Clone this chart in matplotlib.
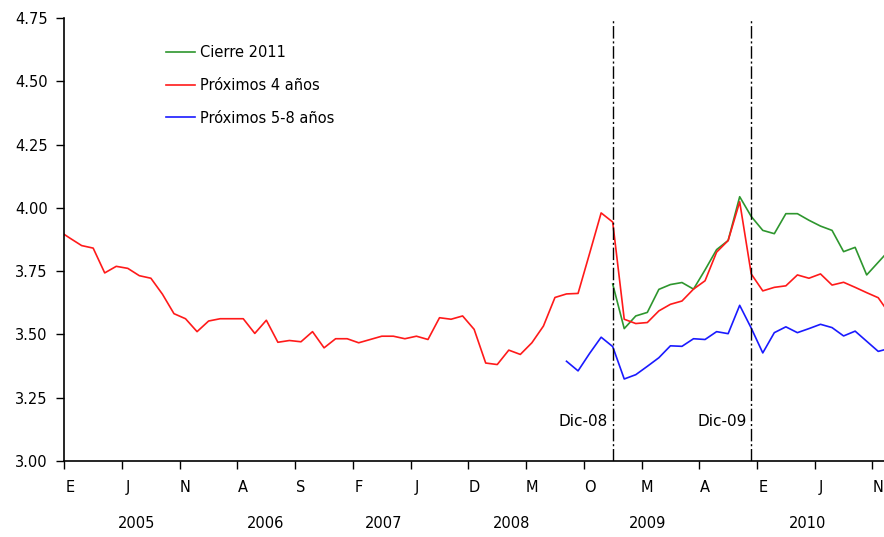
import numpy as np
import matplotlib.pyplot as plt

plt.rcParams['font.family'] = ['DejaVu Sans']

# month index: 0 = Ene 2005 ... 71 = Dic 2010 (first point = Dic 2004, clipped)
red_start = -1
red = [3.91, 3.88, 3.851, 3.841, 3.743, 3.769, 3.761, 3.732, 3.722, 3.659,
       3.582, 3.562, 3.511, 3.553, 3.562, 3.562, 3.562, 3.504, 3.556, 3.469,
       3.476, 3.471, 3.511, 3.447, 3.483, 3.483, 3.467, 3.480, 3.493, 3.493,
       3.483, 3.493, 3.480, 3.566, 3.560, 3.573, 3.520, 3.387, 3.381, 3.438,
       3.421, 3.467, 3.533, 3.646, 3.660, 3.662, 3.82, 3.980, 3.944, 3.560,
       3.543, 3.547, 3.593, 3.619, 3.632, 3.679, 3.712, 3.825, 3.871, 4.024,
       3.739, 3.672, 3.686, 3.692, 3.735, 3.722, 3.739, 3.695, 3.706, 3.686,
       3.665, 3.645, 3.58]

green_start = 47
green = [3.699, 3.523, 3.573, 3.587, 3.678, 3.697, 3.705, 3.679, 3.755, 3.835,
         3.871, 4.044, 3.966, 3.911, 3.898, 3.977, 3.977, 3.951, 3.928, 3.911,
         3.827, 3.844, 3.735, 3.785, 3.835]

blue_start = 43
blue = [3.394, 3.356, 3.425, 3.489, 3.452, 3.324, 3.341, 3.374, 3.408, 3.455,
        3.453, 3.483, 3.480, 3.511, 3.503, 3.615, 3.525, 3.427, 3.507, 3.530,
        3.507, 3.523, 3.540, 3.527, 3.494, 3.513, 3.473, 3.433, 3.445]

month_labels = ['E', 'J', 'N', 'A', 'S', 'F', 'J', 'D', 'M', 'O', 'M', 'A', 'E', 'J', 'N']
years = ['2005', '2006', '2007', '2008', '2009', '2010']
year_pos = [5.8, 16.9, 27.2, 38.2, 50.0, 63.9]
markers = {'Dic-08': 47, 'Dic-09': 59}

fig = plt.figure(figsize=(8.84, 5.37), dpi=100)
ax = fig.add_axes([64.3 / 884, 76 / 537, (884 - 64.3) / 884, 443 / 537])

x_red = np.arange(red_start, red_start + len(red))
x_green = np.arange(green_start, green_start + len(green))
x_blue = np.arange(blue_start, blue_start + len(blue))

ax.plot(x_green, green, color='#2e962e', lw=1.2, label='Cierre 2011')
ax.plot(x_red, red, color='#ff1a1a', lw=1.2, label='Próximos 4 años')
ax.plot(x_blue, blue, color='#1a1aff', lw=1.2, label='Próximos 5-8 años')

for txt, k in markers.items():
    ax.axvline(k, color='black', lw=1.0, dashes=(9, 2, 1.5, 2))
    ax.text(k - 0.4, 0.09, txt, transform=ax.get_xaxis_transform(),
            ha='right', va='center', fontsize=11)

ax.set_xlim(-0.5, 70.5)
ax.set_ylim(3.0, 4.75)
ax.set_yticks(np.arange(3.0, 4.76, 0.25))
ax.set_yticklabels([f'{v:.2f}' for v in np.arange(3.0, 4.76, 0.25)], fontsize=10.5)
ax.tick_params(axis='y', direction='out', length=6, width=1, pad=6)

ax.set_xticks(np.arange(0, 71, 5) - 0.5)
ax.set_xticklabels([])
ax.set_xticks(np.arange(0, 71, 5), minor=True)
ax.set_xticklabels(month_labels, minor=True, fontsize=10.5)
ax.tick_params(axis='x', which='major', direction='out', length=6, width=1)
ax.tick_params(axis='x', which='minor', length=0, pad=14)

for y, pos in zip(years, year_pos):
    ax.text(pos, -0.14, y, transform=ax.get_xaxis_transform(),
            ha='center', va='center', fontsize=10.5)

for s in ['top', 'right']:
    ax.spines[s].set_visible(False)
ax.spines['left'].set_linewidth(1.2)
ax.spines['bottom'].set_linewidth(1.2)

ax.legend(loc='upper left', bbox_to_anchor=((166 - 64.3) / 819.7, (461 - 45) / 443),
          frameon=False, fontsize=10.5, handlelength=2.0, handletextpad=0.35,
          labelspacing=1.22, borderpad=0, borderaxespad=0)

fig.savefig('out.png', dpi=100)
